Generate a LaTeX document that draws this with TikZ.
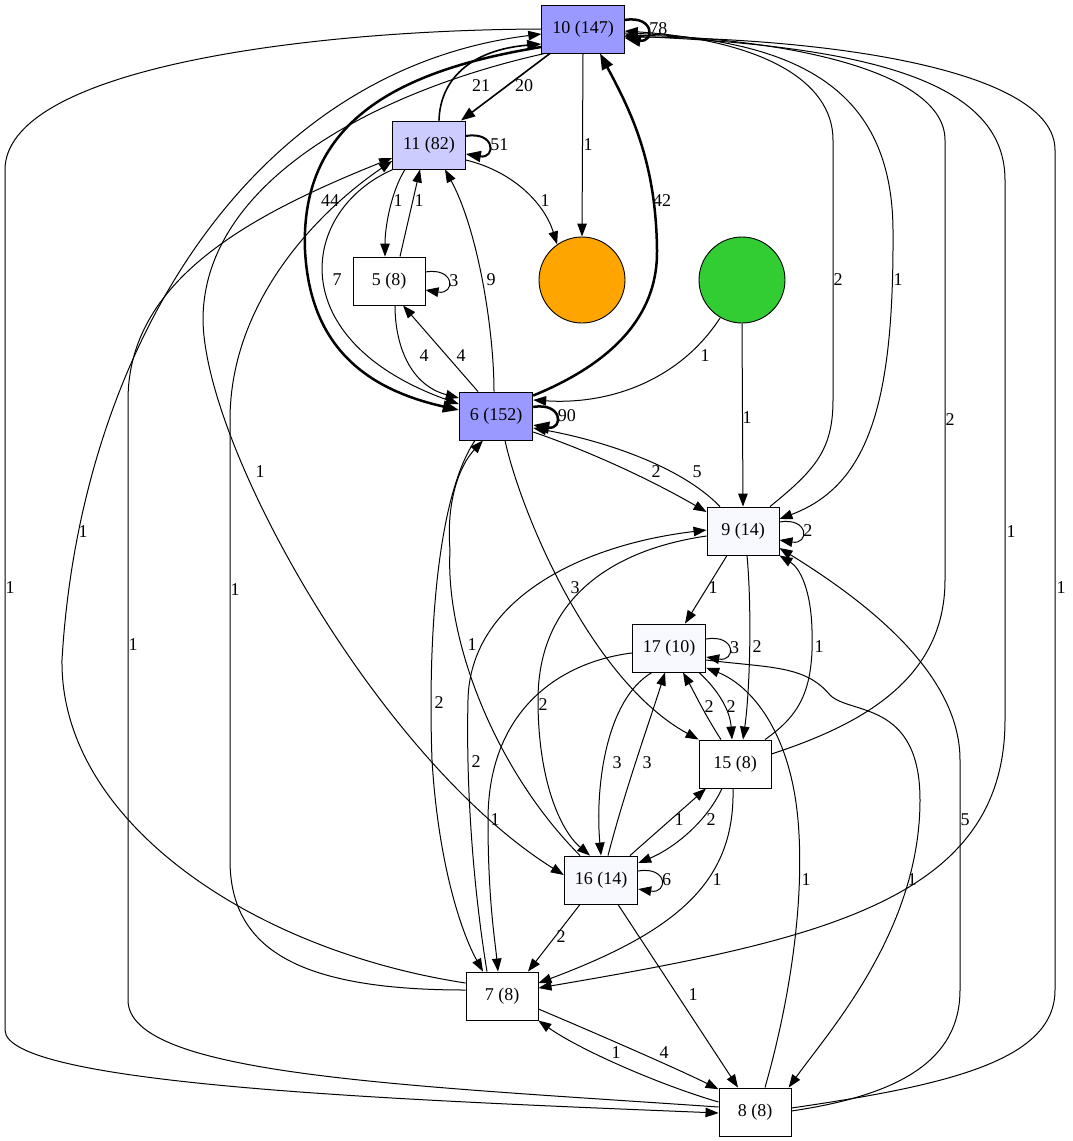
\documentclass[tikz,border=0pt]{standalone}
\usepackage{fontspec}
\setmainfont{Liberation Serif}
\usetikzlibrary{arrows.meta}

\definecolor{hotcol}{HTML}{9999FF}
\definecolor{warmcol}{HTML}{CCCCFF}
\definecolor{coolcol}{HTML}{F8F8FF}
\definecolor{endcol}{HTML}{FFA500}
\definecolor{startcol}{HTML}{32CD32}

\begin{document}
\begin{tikzpicture}[x=1pt, y=-1pt, >={Triangle[length=11pt 2, width=8pt 1.5]},
		font=\fontsize{18}{21}\selectfont,
		box/.style={draw, line width=0.9pt, minimum width=72pt, minimum height=48pt, inner xsep=10.5pt, inner ysep=0pt},
		dot/.style={circle, draw, line width=0.9pt, minimum size=86pt, inner sep=0pt},
		lbl/.style={inner sep=0pt},
		link/.style={->, line width=1pt},
		midlink/.style={->, line width=1.6pt},
		heavylink/.style={->, line width=2.5pt}]

		\useasboundingbox (0,0) rectangle (1072,1141);

		% Top rows: states 10, 11, 5 and the two end circles
		\node[box, fill=hotcol] (n10) at (583, 29) {10 (147)};
		\node[box, fill=warmcol] (n11) at (429, 145) {11 (82)};
		\node[box, fill=white] (n5) at (389, 281) {5 (8)};
		\node[dot, fill=endcol] (no) at (582, 280) {};
		\node[dot, fill=startcol] (ng) at (742, 280) {};

		% Middle rows
		\node[box, fill=hotcol] (n6) at (496, 416) {6 (152)};
		\node[box, fill=coolcol] (n9) at (743, 531) {9 (14)};
		\node[box, fill=coolcol] (n17) at (669, 648) {17 (10)};
		\node[box, fill=white] (n15) at (735, 764) {15 (8)};

		% Bottom rows
		\node[box, fill=coolcol] (n16) at (601, 880) {16 (14)};
		\node[box, fill=white] (n7) at (502, 996) {7 (8)};
		\node[box, fill=white] (n8) at (755, 1112) {8 (8)};

		% Self loops
		\foreach \n/\w/\lab in {n10/2.5pt/78, n11/2pt/51, n5/1pt/3, n6/2.5pt/90, n9/1pt/2, n17/1pt/3, n16/1pt/6} {
				\draw[->, line width=\w] ([yshift=9pt]\n.east) .. controls +(30,-5) and +(30,5) .. ([yshift=-9pt]\n.east)
				node[lbl, pos=0.5, right=1pt] (lab\n) {\lab};
			}

		% --- Edges out of 10 ---
		\draw[midlink] ([xshift=-33pt]n10.south) -- ([xshift=32pt]n11.north);
		\node[lbl] (lab10-11) at (524, 86) {20};

		\draw[link] (n10.south) -- (no.north);
		\node[lbl] (lab10-o) at (588, 145) {1};

		\draw[heavylink] ([yshift=-18pt]n10.west) .. controls (400, 70) and (300, 120) .. (305, 250)
		.. controls (310, 350) and (370, 390) .. ([yshift=6pt]n6.west);
		\node[lbl] (lab10-6) at (330, 201) {44};

		\draw[link] ([xshift=-38pt]n10.south) .. controls (380, 90) and (203, 180) .. (203, 320)
		.. controls (205, 450) and (380, 760) .. ([yshift=5pt]n16.west);
		\node[lbl] (lab10-16) at (260, 472) {1};

		\draw[link] (n10.west) .. controls (300, 30) and (5, 70) .. (5, 170) -- (5, 1030)
		.. controls (5, 1085) and (400, 1100) .. ([yshift=-1pt]n8.west);
		\node[lbl] (lab10-8) at (10, 588) {1};

		\draw[link] ([yshift=-4pt]n10.east) .. controls (800, 38) and (892, 90) .. (893, 230)
		.. controls (894, 400) and (870, 485) .. ([yshift=12pt]n9.east);
		\node[lbl] (lab10-9) at (898, 280) {1};

		\draw[link] ([yshift=-7pt]n10.east) .. controls (880, 45) and (1005, 85) .. (1005, 180) -- (1005, 720)
		.. controls (1005, 900) and (820, 940) .. ([yshift=8pt]n7.east);
		\node[lbl] (lab10-7) at (1011, 532) {1};

		% --- Edges into 10 ---
		\draw[midlink] ([xshift=10pt]n11.north) .. controls (440, 80) and (470, 50) .. ([yshift=-15pt]n10.west);
		\node[lbl] (lab11-10) at (481, 86) {21};

		\draw[heavylink] ([yshift=-4pt]n6.north east) .. controls (620, 360) and (658, 310) .. (657, 250)
		.. controls (656, 160) and (630, 110) .. ([xshift=17pt]n10.south);
		\node[lbl] (lab6-10) at (662, 201) {42};

		\draw[link] ([xshift=27pt]n9.north) .. controls (815, 470) and (833, 450) .. (833, 400) -- (833, 140)
		.. controls (833, 80) and (760, 40) .. ([yshift=-2pt]n10.east);
		\node[lbl] (lab9-10) at (838, 280) {2};

		\draw[link] ([yshift=10pt]n15.east) .. controls (860, 725) and (945, 680) .. (945, 580) -- (945, 140)
		.. controls (945, 70) and (780, 38) .. ([yshift=-6pt]n10.east);
		\node[lbl] (lab15-10) at (950, 420) {2};

		\draw[link] ([yshift=4pt]n8.east) .. controls (950, 1085) and (1055, 1060) .. (1055, 990) -- (1055, 150)
		.. controls (1055, 70) and (830, 38) .. ([yshift=-8pt]n10.east);
		\node[lbl] (lab8-10) at (1061, 588) {1};

		\draw[link] ([yshift=13pt]n7.west) .. controls (250, 950) and (60, 820) .. (62, 660)
		.. controls (80, 350) and (250, 70) .. ([yshift=-5pt]n10.west);
		\node[lbl] (lab7-10) at (83, 532) {1};

		% --- Around 11 and 5 ---
		\draw[link] ([xshift=-24pt]n11.south) .. controls (392, 190) and (385, 225) .. ([xshift=-4pt]n5.north);
		\node[lbl] (lab11-5) at (398, 201) {1};

		\draw[link] ([xshift=11pt]n5.north) -- ([xshift=-9pt]n11.south);
		\node[lbl] (lab5-11) at (419, 201) {1};

		\draw[link] ([yshift=-15pt]n11.east) .. controls (515, 172) and (545, 205) .. (no.125);
		\node[lbl] (lab11-o) at (545, 201) {1};

		\draw[link] ([xshift=-36pt]n11.south) .. controls (300, 210) and (280, 340) .. ([yshift=12pt]n6.west);
		\node[lbl] (lab11-6) at (337, 280) {7};

		\draw[link] ([xshift=-2pt]n6.north) .. controls (494, 330) and (478, 230) .. ([xshift=16pt]n11.south);
		\node[lbl] (lab6-11) at (491, 280) {9};

		\draw[link] ([xshift=6pt]n5.south) .. controls (395, 345) and (410, 385) .. ([yshift=18pt]n6.west);
		\node[lbl] (lab5-6) at (424, 356) {4};

		\draw[link] ([xshift=-18pt]n6.north) -- ([xshift=14pt]n5.south);
		\node[lbl] (lab6-5) at (461, 356) {4};

		\draw[link] ([yshift=5pt]n8.west) .. controls (400, 1085) and (128, 1075) .. (128, 1000) -- (128, 400)
		.. controls (128, 280) and (250, 215) .. ([yshift=-13pt]n11.west);
		\node[lbl] (lab8-11) at (133, 645) {1};

		\draw[link] ([yshift=6pt]n7.west) .. controls (300, 990) and (230, 950) .. (230, 860) -- (230, 420)
		.. controls (230, 300) and (320, 210) .. ([yshift=-16pt]n11.west);
		\node[lbl] (lab7-11) at (235, 590) {1};

		% --- Start circle ---
		\draw[link] (ng.-120) .. controls (680, 380) and (610, 405) .. ([yshift=16pt]n6.east);
		\node[lbl] (labg-6) at (705, 356) {1};

		\draw[link] (ng.south) -- (n9.north);
		\node[lbl] (labg-9) at (747, 418) {1};

		% --- Around 6 and 9 ---
		\draw[link] ([yshift=-16pt]n6.east) .. controls (600, 455) and (660, 485) .. ([yshift=19pt]n9.west);
		\node[lbl] (lab6-9) at (656, 472) {2};

		\draw[link] ([xshift=-23pt]n9.north) .. controls (680, 465) and (600, 440) .. ([yshift=-12pt]n6.east);
		\node[lbl] (lab9-6) at (697, 472) {5};

		\draw[link] ([xshift=9pt]n6.south) .. controls (520, 510) and (590, 680) .. (n15.north west);
		\node[lbl] (lab6-15) at (575, 588) {3};

		\draw[link] ([xshift=-21pt]n6.south) .. controls (435, 500) and (428, 650) .. (432, 760)
		.. controls (438, 860) and (460, 930) .. ([xshift=-19pt]n7.north);
		\node[lbl] (lab6-7) at (439, 703) {2};

		\draw[link] ([xshift=-21pt]n16.north) .. controls (495, 770) and (445, 640) .. (450, 550)
		.. controls (446, 500) and (460, 465) .. ([xshift=-13pt]n6.south);
		\node[lbl] (lab16-6) at (472, 645) {1};

		\draw[link] ([xshift=-16pt]n9.south) -- ([xshift=16pt]n17.north);
		\node[lbl] (lab9-17) at (713, 588) {1};

		\draw[link] ([xshift=4pt]n9.south) .. controls (752, 610) and (750, 690) .. ([xshift=8pt]n15.north);
		\node[lbl] (lab9-15) at (757, 647) {2};

		\draw[link] ([xshift=30pt]n15.north) .. controls (800, 715) and (814, 690) .. (812, 630)
		.. controls (811, 590) and (800, 568) .. (n9.south east);
		\node[lbl] (lab15-9) at (819, 647) {1};

		\draw[link] ([yshift=-5pt]n9.west) .. controls (610, 550) and (538, 600) .. (538, 700)
		.. controls (538, 780) and (560, 830) .. ([xshift=-11pt]n16.north);
		\node[lbl] (lab9-16) at (543, 705) {2};

		\draw[link] ([xshift=-15pt]n7.north) .. controls (472, 880) and (466, 780) .. (468, 700)
		.. controls (470, 600) and (580, 545) .. ([yshift=1pt]n9.west);
		\node[lbl] (lab7-9) at (476, 762) {2};

		\draw[link] ([yshift=1pt]n8.east) .. controls (900, 1095) and (960, 1060) .. (960, 990) -- (960, 760)
		.. controls (960, 680) and (880, 610) .. (n9.-25);
		\node[lbl] (lab8-9) at (965, 820) {5};

		% --- Around 17 and 15 ---
		\draw[link] ([xshift=30pt]n17.south) .. controls (718, 690) and (730, 710) .. ([xshift=-3pt]n15.north);
		\node[lbl] (lab17-15) at (731, 707) {2};

		\draw[link] ([xshift=-14pt]n15.north) .. controls (705, 715) and (693, 690) .. ([xshift=14pt]n17.south);
		\node[lbl] (lab15-17) at (709, 707) {2};

		\draw[link] ([xshift=-17pt]n17.south) .. controls (605, 700) and (595, 790) .. (n16.north);
		\node[lbl] (lab17-16) at (617, 763) {3};

		\draw[link] ([xshift=7pt]n16.north) .. controls (625, 790) and (650, 720) .. ([xshift=-4pt]n17.south);
		\node[lbl] (lab16-17) at (647, 763) {3};

		\draw[link] ([yshift=-5pt]n17.west) .. controls (560, 662) and (488, 710) .. (488, 820)
		.. controls (488, 900) and (495, 940) .. ([xshift=-4pt]n7.north);
		\node[lbl] (lab17-7) at (495, 820) {1};

		\draw[link] ([yshift=-12pt]n17.east) .. controls (770, 668) and (805, 665) .. (830, 695)
		.. controls (850, 715) and (920, 700) .. (920, 800)
		.. controls (920, 930) and (830, 1030) .. (n8.36);
		\node[lbl] (lab17-8) at (912, 880) {1};

		\draw[link] ([xshift=10pt]n8.north) .. controls (790, 1000) and (805, 900) .. (798, 820)
		.. controls (790, 730) and (750, 685) .. (n17.-28);
		\node[lbl] (lab8-17) at (806, 880) {1};

		% --- Around 16 and 15 ---
		\draw[link] ([xshift=29pt]n16.north) -- ([xshift=-29pt]n15.south);
		\node[lbl] (lab16-15) at (679, 820) {1};

		\draw[link] ([xshift=-13pt]n15.south) .. controls (705, 825) and (670, 850) .. ([yshift=17pt]n16.east);
		\node[lbl] (lab15-16) at (711, 820) {2};

		\draw[link] ([xshift=-2pt]n15.south) .. controls (735, 880) and (680, 930) .. ([yshift=13pt]n7.east);
		\node[lbl] (lab15-7) at (717, 880) {1};

		\draw[link] ([xshift=-21pt]n16.south) -- ([xshift=26pt]n7.north);
		\node[lbl] (lab16-7) at (561, 937) {2};

		\draw[link] ([xshift=17pt]n16.south) -- ([xshift=-17pt]n8.north);
		\node[lbl] (lab16-8) at (693, 995) {1};

		% --- Bottom pair 7 and 8 ---
		\draw[link] ([yshift=-13pt]n7.east) .. controls (600, 1035) and (680, 1070) .. (n8.148);
		\node[lbl] (lab7-8) at (664, 1053) {4};

		\draw[link] ([yshift=10pt]n8.west) .. controls (660, 1085) and (580, 1050) .. (n7.-34);
		\node[lbl] (lab8-7) at (616, 1053) {1};

	\end{tikzpicture}
\end{document}
